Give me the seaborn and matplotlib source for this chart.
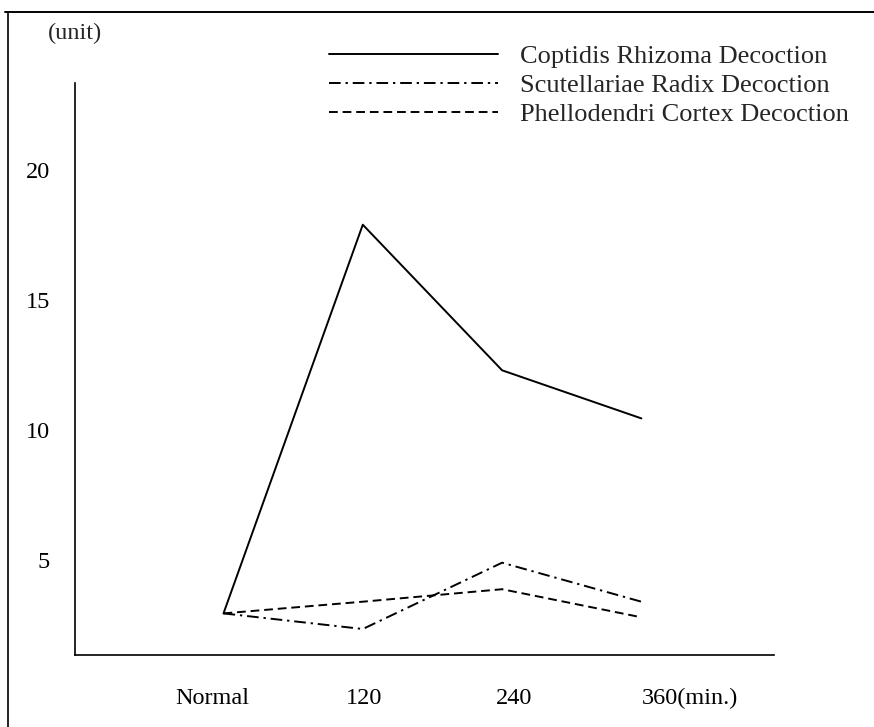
import matplotlib
matplotlib.use("Agg")
import matplotlib.pyplot as plt
import matplotlib.transforms as mtransforms
import seaborn as sns
import pandas as pd
from matplotlib.lines import Line2D

# ---- data ----
time_labels = ["Normal", "120", "240", "360(min.)"]
series_names = ["Coptidis Rhizoma Decoction",
                "Scutellariae Radix Decoction",
                "Phellodendri Cortex Decoction"]
coptidis = [2.95, 17.9, 12.3, 10.45]
scutellariae = [2.95, 2.35, 4.9, 3.4]
phellodendri = [2.95, 3.4, 3.88, 2.8]
y_ticks = [5, 10, 15, 20]
y_unit = "(unit)"

rows = []
for name, vals in zip(series_names, [coptidis, scutellariae, phellodendri]):
    for t, v in zip(time_labels, vals):
        rows.append({"time": t, "value": v, "series": name})
df = pd.DataFrame(rows)

sns.set_theme(style="white")
plt.rcParams["font.family"] = ["Liberation Serif", "DejaVu Serif"]
FS = 17.5
LFS = 19

fig = plt.figure(figsize=(8.74, 7.27), dpi=100)
ax = fig.add_axes([75/874, 1-655/727, (774-75)/874, (655-83)/727])

dashes = {series_names[0]: "",
          series_names[1]: (6, 2.5, 1.2, 2.5),
          series_names[2]: (4.5, 2.5)}
sns.lineplot(data=df, x="time", y="value", style="series", dashes=dashes,
             color="black", linewidth=1.4, ax=ax, sort=False, legend="brief")

ax.set_xlim(-1.066, 3.952)
ax.set_ylim(1.35, 23.35)
ax.set_yticks(y_ticks)
ax.set_yticklabels([str(v) for v in y_ticks])
ax.set_xticks(range(len(time_labels)))
ax.set_xticklabels(time_labels)
ax.set_xlabel("")
ax.set_ylabel("")
ax.tick_params(axis="both", length=0, labelsize=FS, colors="black")
ax.tick_params(axis="x", pad=24)
ax.tick_params(axis="y", pad=18)

# small horizontal shifts of the tick labels as in the original print
shifts_px = [-11.5, 1.0, 12.0, 0.0]
for lab, dx in zip(ax.get_xticklabels(), shifts_px):
    lab.set_transform(lab.get_transform() +
                      mtransforms.ScaledTranslation(dx/100, 0, fig.dpi_scale_trans))
ax.get_xticklabels()[-1].set_ha("left")

for s in ["top", "right"]:
    ax.spines[s].set_visible(False)
for s in ["left", "bottom"]:
    ax.spines[s].set_color("black")
    ax.spines[s].set_linewidth(1.2)

em = LFS*100/72
leg = ax.legend(loc="upper left", bbox_to_anchor=(329/874, 1-45/727),
                bbox_transform=fig.transFigure, frameon=False, fontsize=LFS,
                handlelength=(498-329)/em, handletextpad=(520-498)/em,
                borderpad=0, borderaxespad=0, labelspacing=0.2, title=None)
for line in leg.get_lines():
    line.set_linewidth(1.4)

fig.text(48/874, 1-33/727, y_unit, fontsize=FS, ha="left", va="center")

# outer frame (top and left edges)
fig.add_artist(Line2D([5/874, 1.0], [1-12/727, 1-12/727], transform=fig.transFigure,
                      color="black", linewidth=1.4))
fig.add_artist(Line2D([8/874, 8/874], [0.0, 1-12/727], transform=fig.transFigure,
                      color="black", linewidth=1.2))

fig.savefig("out.png", dpi=100, facecolor="white")
